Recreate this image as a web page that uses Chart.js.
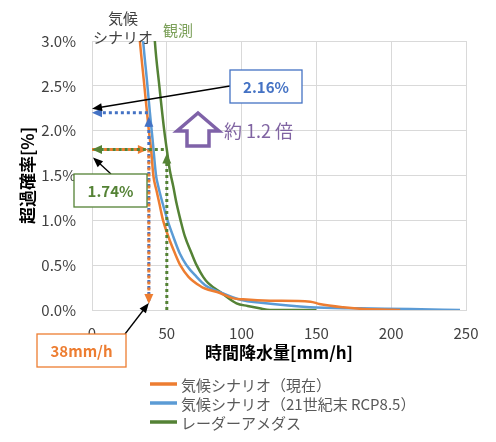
<!DOCTYPE html>
<html><head><meta charset="utf-8">
<script src="https://cdn.jsdelivr.net/npm/chart.js@4.4.0/dist/chart.umd.min.js"></script>
<style>html,body{margin:0;padding:0;background:#fff;}canvas{display:block;}</style>
</head><body>
<canvas id="c" width="496" height="442"></canvas>
<script>
// ---- data ----
const seriesLabels = ['気候シナリオ（現在）', '気候シナリオ（21世紀末 RCP8.5）', 'レーダーアメダス'];
const presentX = [30.5, 32, 35, 38, 39.5, 41, 43, 45, 47.5, 51, 55.5, 59, 64.5, 73, 75.5, 85.5, 94.5, 101, 119, 146, 152, 168, 179, 201, 206];
const presentY = [3.3, 3.0, 2.5, 2.0, 1.79, 1.5, 1.34, 1.19, 1.0, 0.82, 0.63, 0.5, 0.37, 0.26, 0.24, 0.19, 0.13, 0.119, 0.104, 0.093, 0.067, 0.03, 0.015, 0.003, 0.0];
const futureX = [33, 34.2, 36.5, 38.7, 40.5, 42.8, 44, 47.2, 50.5, 54.3, 58.7, 63.2, 69.9, 75.4, 85.5, 99.9, 113, 145.7, 179, 212.5, 246];
const futureY = [3.3, 3.0, 2.6, 2.2, 1.9, 1.5, 1.4, 1.19, 1.0, 0.82, 0.63, 0.5, 0.37, 0.28, 0.20, 0.11, 0.08, 0.03, 0.019, 0.011, 0.0];
const radarX = [41, 42, 45, 48.3, 50, 52, 54.3, 56.5, 59.2, 62.1, 66.6, 69.9, 74.3, 77.7, 86.6, 96.6, 104, 112, 119, 150];
const radarY = [3.3, 3.0, 2.5, 2.0, 1.79, 1.56, 1.38, 1.19, 1.0, 0.82, 0.63, 0.5, 0.37, 0.30, 0.19, 0.075, 0.045, 0.019, 0.0, 0.0];
const xTicks = [0, 50, 100, 150, 200, 250];
const yTicks = [0, 0.5, 1.0, 1.5, 2.0, 2.5, 3.0];
const scenarioRain = 38;     // mm/h
const observedRain = 50;     // mm/h
const presentProb = 1.79;    // %
const futureProb = 2.2;      // %
const boxTexts = ['2.16%', '1.74%', '38mm/h'];
const ratioText = '約 1.2 倍';
const axisTitles = ['時間降水量[mm/h]', '超過確率[%]'];

const colors = ['#ED7D31', '#5B9BD5', '#548235'];
const JP = '"Noto Sans CJK JP", "Noto Sans", sans-serif';

function pts(xs, ys) { return xs.map((x, i) => ({x: x, y: ys[i]})); }

function head(ctx, x, y, ang, len, w, color) {
  ctx.save(); ctx.translate(x, y); ctx.rotate(ang);
  ctx.beginPath(); ctx.moveTo(0, 0); ctx.lineTo(-len, -w / 2); ctx.lineTo(-len, w / 2); ctx.closePath();
  ctx.fillStyle = color; ctx.fill(); ctx.restore();
}
function dotted(ctx, x1, y1, x2, y2, color, off) {
  const ang = Math.atan2(y2 - y1, x2 - x1), len = 10;
  ctx.save(); ctx.strokeStyle = color; ctx.lineWidth = 3; ctx.setLineDash([3, 3]); ctx.lineDashOffset = off || 0;
  ctx.beginPath(); ctx.moveTo(x1, y1); ctx.lineTo(x2 - Math.cos(ang) * len * 0.7, y2 - Math.sin(ang) * len * 0.7); ctx.stroke(); ctx.restore();
  head(ctx, x2, y2, ang, len, 9, color);
}
function solid(ctx, x1, y1, x2, y2) {
  const ang = Math.atan2(y2 - y1, x2 - x1);
  ctx.save(); ctx.strokeStyle = '#000'; ctx.lineWidth = 1.3;
  ctx.beginPath(); ctx.moveTo(x1, y1); ctx.lineTo(x2 - Math.cos(ang) * 6, y2 - Math.sin(ang) * 6); ctx.stroke(); ctx.restore();
  head(ctx, x2, y2, ang, 10, 8, '#000');
}
function box(ctx, x, y, w, h, color, text, tcolor, size) {
  ctx.save(); ctx.fillStyle = '#fff'; ctx.fillRect(x, y, w, h);
  ctx.strokeStyle = color; ctx.lineWidth = 1.3; ctx.strokeRect(x, y, w, h);
  ctx.fillStyle = tcolor; ctx.font = 'bold ' + size + 'px ' + JP; ctx.textAlign = 'center'; ctx.textBaseline = 'middle';
  ctx.fillText(text, x + w / 2, y + h / 2 + 1); ctx.restore();
}

const annot = {
  id: 'annot',
  afterDatasetsDraw(chart) {
    const ctx = chart.ctx, xs = chart.scales.x, ys = chart.scales.y;
    const x0 = xs.getPixelForValue(0), xS = xs.getPixelForValue(scenarioRain), xO = xs.getPixelForValue(observedRain);
    const yF = ys.getPixelForValue(futureProb), yP = ys.getPixelForValue(presentProb), yB = ys.getPixelForValue(0);
    // blue
    dotted(ctx, xS - 1, yF, x0, yF, '#4472C4');
    dotted(ctx, xS, yB - 6, xS, yF + 4, '#4472C4', 3);
    // orange
    dotted(ctx, x0, yP, xS - 1, yP, colors[0]);
    dotted(ctx, xS, yP, xS, yB - 6, colors[0]);
    // green
    dotted(ctx, xO, yP, x0, yP, colors[2], 3);
    dotted(ctx, xO, yB, xO, yP + 4, colors[2]);
  },
  afterDraw(chart) {
    const ctx = chart.ctx, xs = chart.scales.x, ys = chart.scales.y;
    const x0 = xs.getPixelForValue(0), xS = xs.getPixelForValue(scenarioRain);
    const yF = ys.getPixelForValue(futureProb), yP = ys.getPixelForValue(presentProb), yB = ys.getPixelForValue(0);
    // boxes and pointer arrows
    solid(ctx, 230, 86, x0, yF - 4);
    box(ctx, 230, 70, 72, 33, '#4472C4', boxTexts[0], '#4472C4', 15);
    solid(ctx, 111, 174, x0 + 1, yP + 8);
    box(ctx, 74, 174, 73, 33, colors[2], boxTexts[1], colors[2], 15);
    solid(ctx, 125, 334, xS, yB - 7);
    box(ctx, 37, 334, 89, 33, colors[0], boxTexts[2], colors[0], 15);
    // purple hollow arrow
    ctx.save();
    ctx.beginPath();
    ctx.moveTo(198, 113); ctx.lineTo(219, 131); ctx.lineTo(209, 131); ctx.lineTo(209, 146);
    ctx.lineTo(187, 146); ctx.lineTo(187, 131); ctx.lineTo(177, 131); ctx.closePath();
    ctx.fillStyle = '#fff'; ctx.fill();
    ctx.strokeStyle = '#7F62A8'; ctx.lineWidth = 3.5; ctx.lineJoin = 'miter'; ctx.stroke();
    ctx.fillStyle = '#8064A2'; ctx.font = '18px ' + JP; ctx.textAlign = 'left'; ctx.textBaseline = 'middle';
    ctx.fillText(ratioText, 224, 131);
    // top texts
    ctx.font = '15px ' + JP; ctx.textAlign = 'center'; ctx.fillStyle = '#404040';
    ctx.fillText('気候', 123, 18);
    ctx.fillText('シナリオ', 123, 37);
    ctx.fillStyle = '#7CA05A';
    ctx.fillText('観測', 178, 30);
    // legend
    ctx.font = '15px ' + JP; ctx.textAlign = 'left';
    const rows = [384, 403, 422];
    chart.data.datasets.forEach((ds, i) => {
      ctx.strokeStyle = ds.borderColor; ctx.lineWidth = 3.5;
      ctx.beginPath(); ctx.moveTo(150, rows[i]); ctx.lineTo(177, rows[i]); ctx.stroke();
      ctx.fillStyle = '#595959'; ctx.fillText(ds.label, 181, rows[i] + 1);
    });
    ctx.restore();
  }
};

new Chart(document.getElementById('c'), {
  type: 'scatter',
  data: {
    datasets: [
      {label: seriesLabels[0], data: pts(presentX, presentY), borderColor: colors[0], backgroundColor: colors[0]},
      {label: seriesLabels[1], data: pts(futureX, futureY), borderColor: colors[1], backgroundColor: colors[1]},
      {label: seriesLabels[2], data: pts(radarX, radarY), borderColor: colors[2], backgroundColor: colors[2]}
    ].map(d => Object.assign(d, {showLine: true, pointRadius: 0, borderWidth: 2.5, cubicInterpolationMode: 'monotone'}))
  },
  options: {
    responsive: false, animation: false,
    layout: {padding: {top: 41, left: 0, right: 30, bottom: 77}},
    plugins: {legend: {display: false}, tooltip: {enabled: false}},
    scales: {
      x: {
        type: 'linear', min: 0, max: 250,
        afterBuildTicks: s => { s.ticks = xTicks.map(v => ({value: v})); },
        afterFit: s => { s.height = 55; s.paddingLeft = 0; s.paddingRight = 0; },
        grid: {color: '#d9d9d9', drawTicks: false},
        border: {color: '#d9d9d9'},
        ticks: {padding: 14, color: '#404040', font: {family: JP, size: 15}},
        title: {display: true, text: axisTitles[0], color: '#000', font: {family: JP, size: 17, weight: 'bold'}, padding: {top: 0, bottom: 2}}
      },
      y: {
        min: 0, max: 3,
        afterBuildTicks: s => { s.ticks = yTicks.map(v => ({value: v})); },
        afterFit: s => { s.width = 92; s.paddingTop = 0; s.paddingBottom = 0; },
        grid: {color: '#d9d9d9', drawTicks: false},
        border: {color: '#d9d9d9'},
        ticks: {padding: 16, color: '#404040', font: {family: JP, size: 15}, callback: v => v.toFixed(1) + '%'},
        title: {display: true, text: axisTitles[1], color: '#000', font: {family: JP, size: 17, weight: 'bold'}, padding: {top: 17, bottom: 0}}
      }
    }
  },
  plugins: [annot]
});
</script>
</body></html>
